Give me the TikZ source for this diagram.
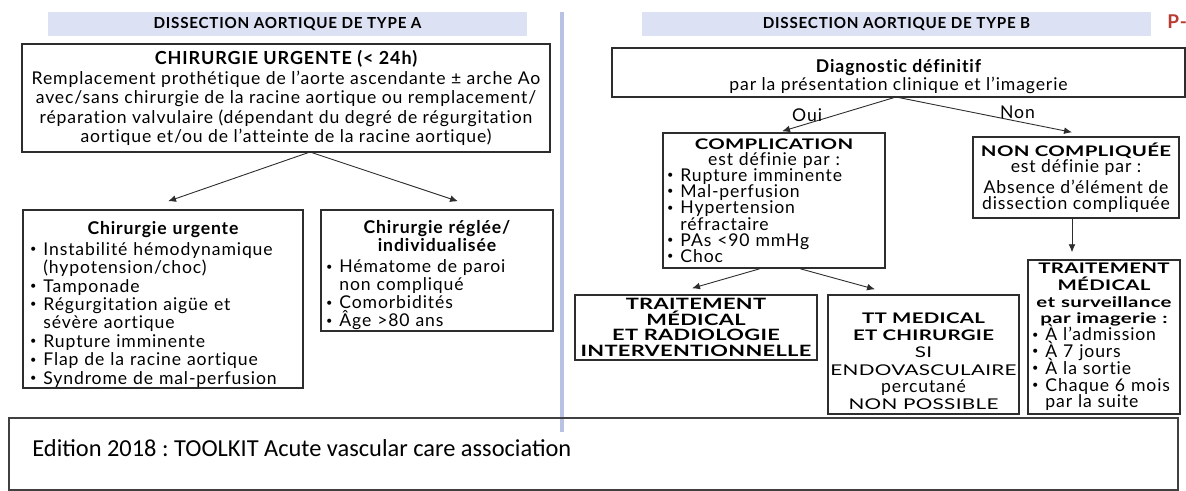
\documentclass[tikz,border=0pt]{standalone}
\usepackage{fontspec}
\setmainfont{Lato}[LetterSpace=5, Ligatures=NoCommon]
\newfontfamily\capsfont{Lato}[FakeStretch=1.4, LetterSpace=2, Ligatures=NoCommon]
\newfontfamily\srcfont{Carlito}
\usetikzlibrary{arrows.meta,positioning,calc}
\definecolor{bandblue}{RGB}{220,226,244}
\definecolor{splitblue}{RGB}{186,194,228}
\definecolor{pagered}{RGB}{185,60,50}
\definecolor{boxgray}{RGB}{45,45,45}
\newcommand{\bul}{\raisebox{0.3ex}{\fontsize{5.5}{5}\selectfont•}\hspace{0.4em}}
\newcommand{\capb}[1]{{\capsfont\bfseries\fontsize{7.3}{8}\selectfont #1}}
\frenchspacing

\tikzset{
  box/.style={draw=boxgray, line width=0.7pt, inner sep=0pt, align=center,
    execute at begin node={\lineskiplimit=-6pt}},
  band/.style={fill=bandblue, inner sep=0pt, minimum height=12pt, font=\bfseries\fontsize{7.6}{8}\selectfont},
  arr/.style={-{Latex[length=4pt,width=3.4pt]}, line width=0.45pt, draw=boxgray},
  lbl/.style={font=\fontsize{8.8}{9}\selectfont, inner sep=1pt},
}

\begin{document}
\begin{tikzpicture}[x=0.5pt,y=-0.5pt]
\useasboundingbox (0,0) rectangle (1186,491);

% bandeaux
\node[band, minimum width=239.5pt] (bandA) at (287.5,24) {DISSECTION AORTIQUE DE TYPE A};
\node[band, minimum width=254.5pt] (bandB) at (896.5,24) {DISSECTION AORTIQUE DE TYPE B};
\node[text=pagered, anchor=west, inner sep=0pt, font=\bfseries\fontsize{9.5}{9.5}\selectfont] (pg) at (1167,22) {P-};
\draw[splitblue, line width=2pt] (562,12) -- (562,432);

% type A
\node[box, minimum width=264pt, minimum height=54pt, font=\fontsize{8.8}{9.75}\selectfont] (urgA) at (286,98)
  {{\bfseries\fontsize{9}{9.75}\selectfont CHIRURGIE URGENTE (< 24h)}\\
   Remplacement prothétique de l’aorte ascendante ± arche Ao\\
   avec/sans chirurgie de la racine aortique ou remplacement/\\
   réparation valvulaire (dépendant du degré de régurgitation\\
   aortique et/ou de l’atteinte de la racine aortique)};
\node[box, minimum width=140pt, minimum height=89pt, text width=133pt, align=left, font=\fontsize{8.8}{9.2}\selectfont] (chirU) at (163,299)
  {\rule{0pt}{12pt}\makebox[133pt]{\bfseries Chirurgie urgente}\\[1pt]
   \bul Instabilité hémodynamique\\
   \phantom{\bul}(hypotension/choc)\\
   \bul Tamponade\\
   \bul Régurgitation aigüe et\\
   \phantom{\bul}sévère aortique\\
   \bul Rupture imminente\\
   \bul Flap de la racine aortique\\
   \bul Syndrome de mal-perfusion};
\node[box, minimum width=116pt, minimum height=60.5pt, text width=111pt, align=left, font=\fontsize{8.8}{9}\selectfont] (chirR) at (437,270.5)
  {\rule{0pt}{11.5pt}\makebox[111pt]{\bfseries Chirurgie réglée/}\\
   \makebox[111pt]{\bfseries individualisée}\\[1.5pt]
   \bul Hématome de paroi\\
   \phantom{\bul}non compliqué\\
   \bul Comorbidités\\
   \bul Âge >80 ans};

\coordinate (apexA) at (310,152);
\draw[arr] (apexA) -- ([xshift=2.5pt,yshift=4pt]chirU.north);
\draw[arr] (apexA) -- ([xshift=10.5pt,yshift=4pt]chirR.north);

% type B
\node[box, minimum width=286.5pt, minimum height=24.5pt, font=\fontsize{8.8}{9}\selectfont] (diag) at (898.5,72.5)
  {\rule{0pt}{10.5pt}{\bfseries Diagnostic définitif}\\
   par la présentation clinique et l’imagerie};
\node[box, minimum width=111pt, minimum height=67.5pt, text width=107pt, align=left, font=\fontsize{8.8}{8.1}\selectfont] (compl) at (774,200.5)
  {\makebox[107pt]{\capb{COMPLICATION}}\\
   \makebox[107pt]{est définie par :}\\
   \bul Rupture imminente\\
   \bul Mal-perfusion\\
   \bul Hypertension\\
   \phantom{\bul}réfractaire\\
   \bul PAs <90 mmHg\\
   \bul Choc};
\node[box, minimum width=103pt, minimum height=40.5pt, font=\fontsize{8.8}{8}\selectfont] (noncomp) at (1076,177.5)
  {\capb{NON COMPLIQUÉE}\\
   est définie par :\\[2.5pt]
   Absence d’élément de\\
   dissection compliquée};
\node[box, minimum width=121pt, minimum height=32.5pt, font=\capsfont\bfseries\fontsize{7.8}{7.9}\selectfont] (ttmedrad) at (696,327.5)
  {TRAITEMENT\\ MÉDICAL\\ ET RADIOLOGIE\\ INTERVENTIONNELLE};
\node[box, minimum width=95.5pt, minimum height=59.5pt, font=\capsfont\fontsize{7.4}{8.6}\selectfont] (ttchir) at (923.5,354.5)
  {\rule{0pt}{12pt}\capb{TT MEDICAL}\\
   \capb{ET CHIRURGIE}\\
   SI\\
   ENDOVASCULAIRE\\
   {\normalfont\fontsize{8.8}{8.6}\selectfont percutané}\\
   NON POSSIBLE};
\node[box, minimum width=76pt, minimum height=77pt, text width=72pt, align=left, font=\fontsize{8.8}{8.4}\selectfont] (ttsurv) at (1104,337)
  {\makebox[72pt]{\capb{TRAITEMENT}}\\
   \makebox[72pt]{\capb{MÉDICAL}}\\
   \makebox[72pt]{\capb{et surveillance}}\\
   \makebox[72pt]{\capb{par imagerie :}}\\
   \bul À l’admission\\
   \bul À 7 jours\\
   \bul À la sortie\\
   \bul Chaque 6 mois\\
   \phantom{\bul}par la suite};

\coordinate (apexB) at (896,97);
\draw[arr] (apexB) -- node[lbl, pos=0.78, above] (oui) {Oui} ([xshift=4pt,yshift=0.5pt]compl.north);
\draw[arr] (apexB) -- node[lbl, pos=0.69, above] (non) {Non} ([xshift=-2pt,yshift=2pt]noncomp.north);
\draw[arr] ([xshift=-7pt]compl.south) -- ([xshift=-2pt,yshift=3pt]ttmedrad.north);
\draw[arr] ([xshift=13pt]compl.south) -- ([xshift=-24.25pt,yshift=2.5pt]ttchir.north);
\draw[arr, shorten >=3.5pt] ([xshift=-2pt]noncomp.south) -- ([xshift=-2pt]noncomp.south |- ttsurv.north);

% source
\node[draw=black!75, line width=1pt, minimum width=584.5pt, minimum height=36pt, inner sep=0pt] (srcbox) at (593.5,454) {};
\node[anchor=west, inner sep=0pt, font=\srcfont\fontsize{12.2}{12}\selectfont] (srctxt) at (32,448) {Edition 2018 : TOOLKIT Acute vascular care association};
\end{tikzpicture}
\end{document}
